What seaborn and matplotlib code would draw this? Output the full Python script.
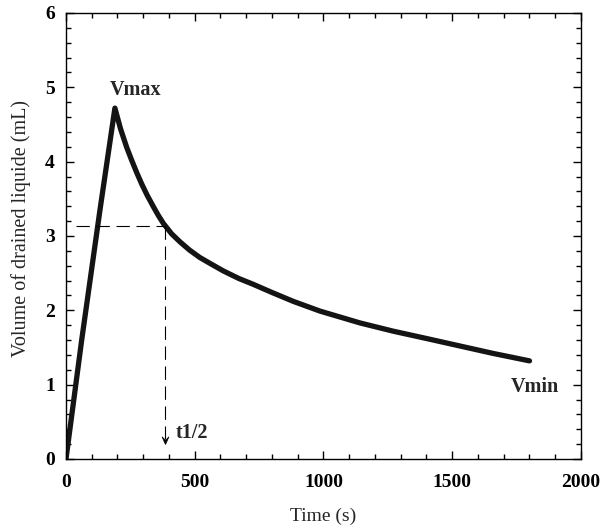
import matplotlib
matplotlib.use("Agg")
import matplotlib.pyplot as plt
from matplotlib.ticker import MultipleLocator
from matplotlib.path import Path
import seaborn as sns
import pandas as pd

# Data
time_s = [0, 61, 132, 190, 212, 236, 255, 275, 294, 315, 340, 358, 378, 410,
          443, 480, 520, 565, 611, 670, 727, 800, 883, 986, 1142, 1270, 1401,
          1530, 1659, 1800]
volume_ml = [0, 1.60, 3.35, 4.72, 4.44, 4.19, 4.02, 3.85, 3.70, 3.55, 3.39,
             3.28, 3.17, 3.03, 2.92, 2.81, 2.71, 2.62, 2.53, 2.43, 2.35, 2.24,
             2.12, 1.99, 1.83, 1.72, 1.62, 1.52, 1.42, 1.32]
t_half = 384
v_half = 3.13
t_dash_start = 40
arrow_tip = 0.12
x_ticks = [0, 500, 1000, 1500, 2000]
y_ticks = [0, 1, 2, 3, 4, 5, 6]

df = pd.DataFrame({"Time (s)": time_s, "Volume": volume_ml})

sns.set_style("ticks")
plt.rcParams["font.family"] = ["Liberation Serif", "DejaVu Serif"]

fig = plt.figure(figsize=(6.02, 5.31), dpi=100)
ax = fig.add_axes([0.1096, 0.1356, 0.8555, 0.84])

sns.lineplot(data=df, x="Time (s)", y="Volume", ax=ax, color="#141414",
             linewidth=3.8, solid_capstyle="round", solid_joinstyle="round")

# half-time construction
ax.plot([t_dash_start, t_half], [v_half, v_half], color="black", lw=0.8,
        dashes=(12, 6))
ax.plot([t_half, t_half], [v_half, arrow_tip + 0.15], color="black", lw=0.8,
        dashes=(12, 6))
head = Path([(0, 0), (-0.45, 1.0), (0, 0.55), (0.45, 1.0), (0, 0)],
            [Path.MOVETO, Path.LINETO, Path.LINETO, Path.LINETO, Path.CLOSEPOLY])
ax.plot([t_half], [arrow_tip + 0.08], marker=head, markersize=11,
        color="black", markeredgewidth=0.5, linestyle="none")

ax.text(170, 4.97, "Vmax", fontsize=14.5, fontweight="bold", ha="left", va="center")
ax.text(1822, 0.97, "Vmin", fontsize=14.5, fontweight="bold", ha="center", va="center")
ax.text(425, 0.35, "t1/2", fontsize=14.5, fontweight="bold", ha="left", va="center")

ax.set_xlim(0, 2000)
ax.set_ylim(0, 6)
ax.set_xticks(x_ticks)
ax.set_yticks(y_ticks)
ax.xaxis.set_minor_locator(MultipleLocator(100))
ax.yaxis.set_minor_locator(MultipleLocator(0.2))
ax.tick_params(which="both", direction="in", top=True, right=True,
               width=1.0, colors="black", labelsize=14)
ax.tick_params(which="major", length=6)
ax.tick_params(which="minor", length=3.5)
for lab in ax.get_xticklabels() + ax.get_yticklabels():
    lab.set_fontweight("bold")
ax.tick_params(axis="x", pad=11)
ax.tick_params(axis="y", pad=8)

for s in ax.spines.values():
    s.set_linewidth(1.0)
    s.set_color("black")

ax.set_xlabel("Time (s)", fontsize=14, labelpad=12)
ax.set_ylabel("Volume of drained liquide (mL)", fontsize=14.5, labelpad=10)
ax.yaxis.label.set_y(0.516)

fig.savefig("out.png", dpi=100)
